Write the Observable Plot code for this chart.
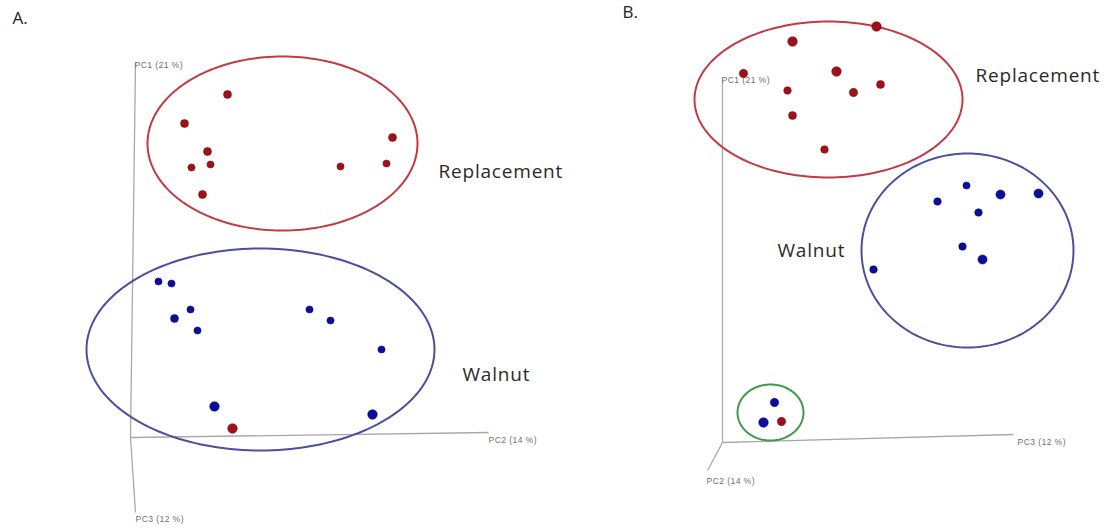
<!DOCTYPE html>
<html><head><meta charset="utf-8">
<script src="https://cdn.jsdelivr.net/npm/d3@7"></script>
<script src="https://cdn.jsdelivr.net/npm/@observablehq/plot@0.6"></script>
<style>html,body{margin:0;padding:0;background:#fff}</style>
</head><body><div id="chart"></div>
<script>
// Panel letters
const panelLabels = [{t: "A.", x: 12, y: 18}, {t: "B.", x: 622, y: 12}];

// Axis lines of the pseudo-3D PCA plots (picture coordinates)
const axisLines = [
  {x1: 135, y1: 62, x2: 130, y2: 437},
  {x1: 130, y1: 437, x2: 488, y2: 432},
  {x1: 130, y1: 437, x2: 135, y2: 512},
  {x1: 722, y1: 78, x2: 722, y2: 442},
  {x1: 722, y1: 442, x2: 1013, y2: 434},
  {x1: 722, y1: 442, x2: 707, y2: 470}
];
const axisLabels = [
  {t: "PC1 (21 %)", x: 134, y: 65},
  {t: "PC2 (14 %)", x: 488, y: 440},
  {t: "PC3 (12 %)", x: 135, y: 519},
  {t: "PC1 (21 %)", x: 721, y: 80},
  {t: "PC3 (12 %)", x: 1017, y: 442},
  {t: "PC2 (14 %)", x: 706, y: 481}
];

// Group ellipses: centre, radii
const ellipses = [
  {id: "A-rep", cx: 282, cy: 143, rx: 135, ry: 87, color: "#c23a44"},
  {id: "A-wal", cx: 260, cy: 349, rx: 174, ry: 101, color: "#4b4f9c"},
  {id: "B-rep", cx: 828, cy: 99, rx: 134, ry: 78, color: "#c23a44"},
  {id: "B-wal", cx: 967, cy: 250, rx: 106, ry: 97, color: "#4b4f9c"},
  {id: "B-mix", cx: 770, cy: 412, rx: 33, ry: 28, color: "#3f9a4c"}
];

// Samples: Replacement (red) and Walnut (blue)
const replacementA = [
  {x: 227, y: 94, r: 4}, {x: 184, y: 123, r: 4}, {x: 207, y: 151, r: 4},
  {x: 191, y: 167, r: 3.6}, {x: 210, y: 164, r: 3.6}, {x: 202, y: 194, r: 4},
  {x: 340, y: 166, r: 3.6}, {x: 392, y: 137, r: 4}, {x: 386, y: 163, r: 3.6},
  {x: 232, y: 428, r: 4.8}
];
const walnutA = [
  {x: 158, y: 281, r: 3.6}, {x: 171, y: 283, r: 3.6}, {x: 190, y: 309, r: 3.6},
  {x: 174, y: 318, r: 4}, {x: 197, y: 330, r: 3.6}, {x: 309, y: 309, r: 3.6},
  {x: 330, y: 320, r: 3.6}, {x: 381, y: 349, r: 3.6}, {x: 214, y: 406, r: 4.8},
  {x: 372, y: 414, r: 4.8}
];
const replacementB = [
  {x: 876, y: 26, r: 4.8}, {x: 792, y: 41, r: 4.8}, {x: 743, y: 73, r: 4.2},
  {x: 836, y: 71, r: 4.8}, {x: 787, y: 90, r: 3.8}, {x: 853, y: 92, r: 4.2},
  {x: 880, y: 84, r: 4}, {x: 792, y: 115, r: 4}, {x: 824, y: 149, r: 3.8},
  {x: 781, y: 421, r: 4.2}
];
const walnutB = [
  {x: 966, y: 185, r: 3.6}, {x: 937, y: 201, r: 3.8}, {x: 1000, y: 194, r: 4.6},
  {x: 1038, y: 193, r: 4.6}, {x: 978, y: 212, r: 3.8}, {x: 962, y: 246, r: 3.8},
  {x: 982, y: 259, r: 4.6}, {x: 873, y: 269, r: 3.8}, {x: 774, y: 402, r: 4.2},
  {x: 763, y: 422, r: 4.8}
];
const groupLabels = [
  {t: "Replacement", x: 438, y: 171},
  {t: "Walnut", x: 462, y: 374},
  {t: "Replacement", x: 975, y: 75},
  {t: "Walnut", x: 777, y: 250}
];

const ellipsePts = ellipses.flatMap(e =>
  d3.range(0, 360, 2).map(a => ({id: e.id, color: e.color,
    x: e.cx + e.rx * Math.cos(a * Math.PI / 180),
    y: e.cy + e.ry * Math.sin(a * Math.PI / 180)})));

const reds = [...replacementA, ...replacementB];
const blues = [...walnutA, ...walnutB];

const chart = Plot.plot({
  width: 1110, height: 531,
  margin: 0,
  x: {domain: [0, 1110], range: [0, 1110], axis: null},
  y: {domain: [0, 531], range: [0, 531], axis: null},
  r: {type: "identity"},
  style: {background: "#fff"},
  marks: [
    Plot.link(axisLines, {x1: "x1", y1: "y1", x2: "x2", y2: "y2", stroke: "#a8a8a8", strokeWidth: 1.3}),
    Plot.text(axisLabels, {x: "x", y: "y", text: "t", textAnchor: "start", fontSize: 8.6, fill: "#707070", fontFamily: "Liberation Sans"}),
    Plot.line(ellipsePts, {x: "x", y: "y", z: "id", stroke: d => d.color, curve: "linear-closed", strokeWidth: 2}),
    Plot.dot(reds, {x: "x", y: "y", r: "r", fill: "#a0101a", stroke: "#700a10", strokeWidth: 0.5}),
    Plot.dot(blues, {x: "x", y: "y", r: "r", fill: "#0c0e9a", stroke: "#060868", strokeWidth: 0.5}),
    Plot.text(groupLabels, {x: "x", y: "y", text: "t", textAnchor: "start", fontSize: 19, fill: "#2a2a2a", fontFamily: "Open Sans"}),
    Plot.text(panelLabels, {x: "x", y: "y", text: "t", textAnchor: "start", fontSize: 17, fill: "#222", fontFamily: "Open Sans"})
  ]
});
// letter spacing to mimic the wider original typeface
d3.select(chart).selectAll("text").each(function() {
  const s = this.textContent;
  if (s === "Replacement" || s === "Walnut") this.setAttribute("letter-spacing", "0.8");
  else if (s.startsWith("PC")) this.setAttribute("letter-spacing", "0.4");
});
document.getElementById("chart").appendChild(chart);
</script>
</body></html>
